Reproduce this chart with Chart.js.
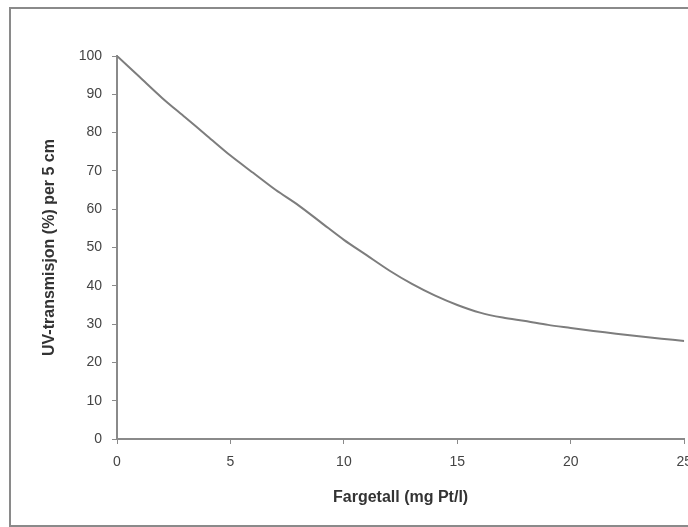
<!DOCTYPE html>
<html>
<head>
<meta charset="utf-8">
<script src="https://cdn.jsdelivr.net/npm/chart.js@4/dist/chart.umd.min.js"></script>
<style>
html,body{margin:0;padding:0;background:#fff;overflow:hidden;width:688px;height:527px;}
#wrap{position:absolute;left:0;top:0;width:702px;height:527px;}
#frame{position:absolute;left:9px;top:7px;width:700px;height:516px;border:2px solid #8a8a8a;pointer-events:none;}
</style>
</head>
<body>
<div id="wrap"><canvas id="c" width="702" height="527"></canvas></div>
<div id="frame"></div>
<script>
const xValues = [0, 1, 2, 3, 4, 5, 6, 7, 8, 9, 10, 11, 12, 13, 14, 15, 16, 17, 18, 19, 20, 21, 22, 23, 24, 25];
const uvValues = [100, 94.5, 89, 84, 79, 74, 69.5, 65, 61, 56.5, 52, 48, 44, 40.5, 37.5, 35, 33, 31.7, 30.8, 29.8, 29, 28.2, 27.5, 26.8, 26.2, 25.6];
const xTicks = [0, 5, 10, 15, 20, 25];
const yTicks = [0, 10, 20, 30, 40, 50, 60, 70, 80, 90, 100];
const xTitle = 'Fargetall (mg Pt/l)';
const yTitle = 'UV-transmisjon (%) per 5 cm';

const points = xValues.map((x, i) => ({x: x, y: uvValues[i]}));

new Chart(document.getElementById('c'), {
  type: 'line',
  data: {
    datasets: [{
      data: points,
      borderColor: '#7d7d7d',
      borderWidth: 2,
      pointRadius: 0,
      tension: 0.3,
      fill: false
    }]
  },
  options: {
    responsive: false,
    animation: false,
    devicePixelRatio: 1,
    layout: {padding: {top: 56, right: 12, bottom: 0, left: 0}},
    plugins: {legend: {display: false}, tooltip: {enabled: false}},
    scales: {
      x: {
        type: 'linear',
        min: 0, max: 25,
        afterBuildTicks: s => { s.ticks = xTicks.map(v => ({value: v})); },
        afterFit: s => { s.height = 88; },
        border: {display: true, color: '#8a8a8a', width: 2},
        grid: {display: true, drawOnChartArea: false, drawTicks: true, tickLength: 5, color: '#8a8a8a', lineWidth: 1},
        ticks: {color: '#444', font: {family: 'Liberation Sans, Arial', size: 14}, padding: 10, maxRotation: 0},
        title: {display: true, text: xTitle, color: '#333', font: {family: 'Liberation Sans, Arial', size: 16, weight: 'bold'}, padding: {top: 0, bottom: 20}}
      },
      y: {
        type: 'linear',
        min: 0, max: 100,
        afterBuildTicks: s => { s.ticks = yTicks.map(v => ({value: v})); },
        afterFit: s => { s.width = 117; },
        border: {display: true, color: '#8a8a8a', width: 2},
        grid: {display: true, drawOnChartArea: false, drawTicks: true, tickLength: 5, color: '#8a8a8a', lineWidth: 1},
        ticks: {color: '#444', font: {family: 'Liberation Sans, Arial', size: 14}, padding: 10},
        title: {display: true, text: yTitle, color: '#333', font: {family: 'Liberation Sans, Arial', size: 16, weight: 'bold'}, padding: {top: 40, bottom: 0}}
      }
    }
  }
});
</script>
</body>
</html>
